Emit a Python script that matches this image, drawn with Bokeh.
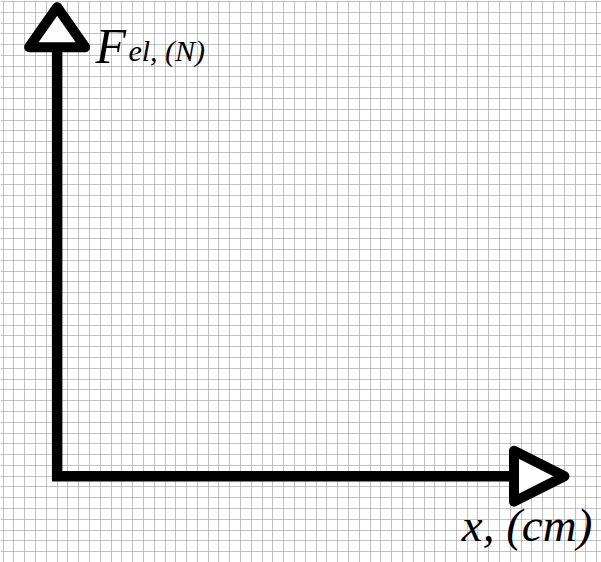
from bokeh.plotting import figure
from bokeh.models import SingleIntervalTicker, Range1d
from bokeh.core.properties import value
from bokeh.embed import file_html
from bokeh.resources import INLINE

# ---- chart content (grid units: one cell of the graph paper) ----
x_view = [-5.25, 50.45]
y_view = [-8.0, 44.09]
x_axis_end = 42.34      # end of horizontal axis shaft (base of arrow head)
y_axis_end = 39.76      # end of vertical axis shaft
x_head_tip = 47.02
y_head_tip = 43.47
x_head_half = 2.36
y_head_half = 2.6
y_label_main = "F"
y_label_sub = "el, (N)"
x_label = "x, (cm)"
y_label_pos = [3.55, 39.9]
y_sub_pos = [6.61, 39.45]
x_label_pos = [49.6, -6.98]   # right/bottom end of the label

p = figure(width=601, height=562, output_backend="svg", toolbar_location=None,
           x_range=Range1d(*x_view), y_range=Range1d(*y_view),
           min_border=0, outline_line_color=None,
           background_fill_color="white", border_fill_color="white")

for ax in (p.xaxis, p.yaxis):
    ax.visible = False
p.xgrid.ticker = SingleIntervalTicker(interval=1)
p.ygrid.ticker = SingleIntervalTicker(interval=1)
for g in (p.xgrid, p.ygrid):
    g.grid_line_color = "#a8a8a8"
    g.grid_line_width = 1
    g.grid_line_alpha = 0.7

# axes shaft (one polyline through the origin)
p.line([0, 0, x_axis_end], [y_axis_end, 0, 0], line_color="black",
       line_width=10.5, line_join="miter", line_cap="butt")

# arrow heads (outlined triangles)
p.patches(
    [[-y_head_half, 0, y_head_half],
     [x_axis_end, x_head_tip, x_axis_end]],
    [[y_axis_end, y_head_tip, y_axis_end],
     [-x_head_half, 0, x_head_half]],
    fill_color="white", line_color="black", line_width=10, line_join="round")

font = value("Liberation Serif")
p.text([y_label_pos[0]], [y_label_pos[1]], text=[y_label_main], text_font=font,
       text_font_style="italic", text_font_size="50px", text_color="black",
       text_baseline="alphabetic", text_align="left")
p.text([y_sub_pos[0]], [y_sub_pos[1]], text=[y_label_sub], text_font=font,
       text_font_style="italic", text_font_size="30px", text_color="black",
       text_baseline="alphabetic", text_align="left")
p.text([x_label_pos[0]], [x_label_pos[1]], text=[x_label], text_font=font,
       text_font_style="italic", text_font_size="47px", text_color="black",
       text_baseline="bottom", text_align="right")

open("out.html", "w").write(file_html(p, INLINE))
